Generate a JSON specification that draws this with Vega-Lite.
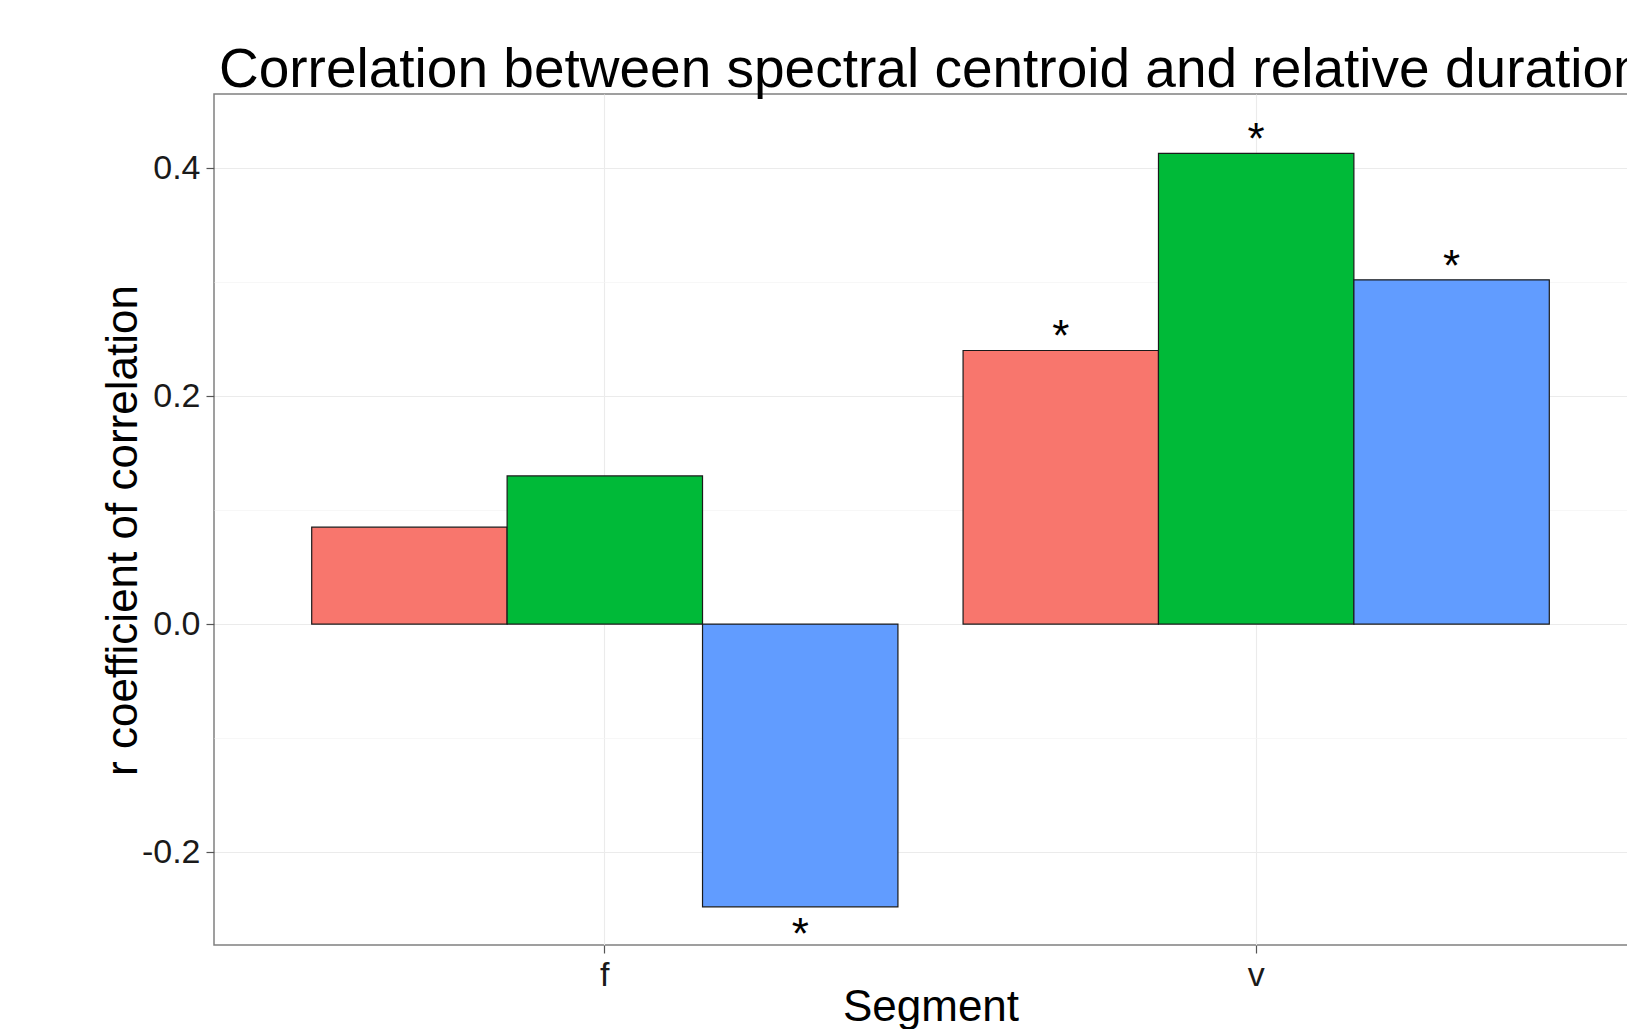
{
  "$schema": "https://vega.github.io/schema/vega-lite/v6.json",
  "autosize": {"type": "none"},
  "padding": {"left": 214, "top": 94, "right": 0, "bottom": 84},
  "width": 1433,
  "height": 851,
  "background": "white",
  "title": {
    "text": "Correlation between spectral centroid and relative duration",
    "anchor": "start",
    "frame": "group",
    "font": "Liberation Sans",
    "fontSize": 55,
    "fontWeight": "normal",
    "color": "black",
    "baseline": "alphabetic",
    "offset": -48,
    "dx": 5
  },
  "config": {
    "view": {"stroke": "#808080", "strokeWidth": 1.5},
    "axis": {
      "labelFont": "Liberation Sans",
      "titleFont": "Liberation Sans",
      "labelColor": "#1a1a1a",
      "titleColor": "black",
      "titleFontWeight": "normal",
      "domain": false,
      "tickColor": "#555555",
      "tickWidth": 1.2
    }
  },
  "data": {
    "values": [
      {"Segment": "f", "group": "Group 1", "r": 0.085, "sig": ""},
      {"Segment": "f", "group": "Group 2", "r": 0.130, "sig": ""},
      {"Segment": "f", "group": "Group 3", "r": -0.248, "sig": "*"},
      {"Segment": "v", "group": "Group 1", "r": 0.240, "sig": "*"},
      {"Segment": "v", "group": "Group 2", "r": 0.413, "sig": "*"},
      {"Segment": "v", "group": "Group 3", "r": 0.302, "sig": "*"}
    ]
  },
  "encoding": {
    "x": {
      "field": "Segment",
      "type": "nominal",
      "scale": {"paddingInner": 0.1, "paddingOuter": 0.15},
      "axis": {
        "title": "Segment",
        "labelAngle": 0,
        "labelFontSize": 34,
        "titleFontSize": 44,
        "tickSize": 8,
        "labelPadding": 5,
        "titleBaseline": "alphabetic",
        "titlePadding": 28,
        "grid": true,
        "gridColor": "#EBEBEB",
        "gridWidth": 1.1
      }
    },
    "xOffset": {
      "field": "group",
      "type": "nominal",
      "scale": {"paddingInner": 0, "paddingOuter": 0}
    },
    "y": {
      "field": "r",
      "type": "quantitative",
      "scale": {"domain": [-0.2815, 0.465], "nice": false, "zero": false},
      "axis": {
        "title": "r coefficient of correlation",
        "values": [-0.2, -0.1, 0, 0.1, 0.2, 0.3, 0.4],
        "labelExpr": "round(datum.value*10)%2 != 0 ? '' : (datum.value < 0 ? '-' + format(-datum.value, '.1f') : format(datum.value, '.1f'))",
        "labelFontSize": 34,
        "titleFontSize": 44,
        "tickSize": 8,
        "labelPadding": 6,
        "titleBaseline": "alphabetic",
        "titlePadding": 5,
        "titleY": 436,
        "tickOpacity": {"condition": {"test": "round(datum.value*10)%2 != 0", "value": 0}, "value": 1},
        "gridColor": {"condition": {"test": "round(datum.value*10)%2 != 0", "value": "#F3F3F3"}, "value": "#EBEBEB"},
        "gridWidth": {"condition": {"test": "round(datum.value*10)%2 != 0", "value": 0.7}, "value": 1.1}
      }
    }
  },
  "layer": [
    {
      "mark": {"type": "bar", "stroke": "#1a1a1a", "strokeWidth": 1.2},
      "encoding": {
        "fill": {
          "field": "group",
          "type": "nominal",
          "scale": {"range": ["#F8766D", "#00BA38", "#619CFF"]},
          "legend": null
        }
      }
    },
    {
      "transform": [{"filter": "datum.r >= 0"}],
      "mark": {"type": "text", "font": "Liberation Sans", "fontSize": 44, "baseline": "alphabetic", "dy": 1, "color": "black"},
      "encoding": {"text": {"field": "sig"}}
    },
    {
      "transform": [{"filter": "datum.r < 0"}],
      "mark": {"type": "text", "font": "Liberation Sans", "fontSize": 44, "baseline": "alphabetic", "dy": 42, "color": "black"},
      "encoding": {"text": {"field": "sig"}}
    }
  ]
}
